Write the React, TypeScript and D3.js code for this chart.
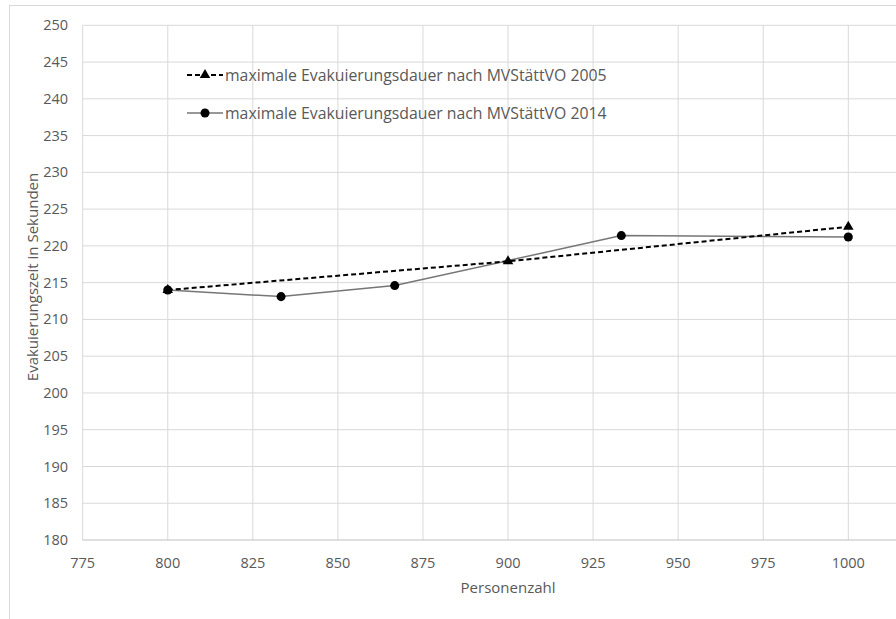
import React from "react";
import * as d3 from "d3";

const xTicks = [775, 800, 825, 850, 875, 900, 925, 950, 975, 1000, 1025];
const yTicks = [180, 185, 190, 195, 200, 205, 210, 215, 220, 225, 230, 235, 240, 245, 250];

const series2005X = [800, 900, 1000];
const series2005Y = [214.0, 217.9, 222.6];
const series2014X = [800, 833.3, 866.7, 933.3, 1000];
const series2014Y = [214.0, 213.1, 214.6, 221.4, 221.2];

const label2005 = "maximale Evakuierungsdauer nach MVStättVO 2005";
const label2014 = "maximale Evakuierungsdauer nach MVStättVO 2014";
const xTitle = "Personenzahl";
const yTitle = "Evakuierungszeit in Sekunden";

export default function App() {
  const W = 896, H = 619;
  const left = 82.7, top = 25.3, bottom = 540;
  const x = d3.scaleLinear().domain([775, 1000]).range([left, 848.3]);
  const y = d3.scaleLinear().domain([180, 250]).range([bottom, top]);
  const right = x(1025);
  const font = "'Open Sans', sans-serif";
  const d05 = series2005X.map((v, i) => [v, series2005Y[i]] as [number, number]);
  const d14 = series2014X.map((v, i) => [v, series2014Y[i]] as [number, number]);
  const line = d3.line<[number, number]>().x(d => x(d[0])).y(d => y(d[1]));
  const tri = d3.symbol().type(d3.symbolTriangle).size(48)();
  const circ = d3.symbol().type(d3.symbolCircle).size(64)();
  return (
    <svg width={W} height={H} style={{ position: "absolute", left: 0, top: 0 }}>
      <rect x={0} y={0} width={W} height={H} fill="#fff" />
      <rect x={9.5} y={5.5} width={1000} height={1000} fill="#fff" stroke="#d9d9d9" />
      {xTicks.map(t => (
        <line key={"gx" + t} x1={x(t)} x2={x(t)} y1={top} y2={bottom} stroke="#d9d9d9" strokeWidth={1} />
      ))}
      {yTicks.map(t => (
        <line key={"gy" + t} x1={left} x2={right} y1={y(t)} y2={y(t)} stroke={t === 180 ? "#bfbfbf" : "#d9d9d9"} strokeWidth={1} />
      ))}
      {yTicks.map(t => (
        <text key={"ty" + t} x={68} y={y(t)} dy="0.35em" textAnchor="end" fontFamily={font} fontSize={14.5} fill="#595959">{t}</text>
      ))}
      {xTicks.filter(t => x(t) < W - 10).map(t => (
        <text key={"tx" + t} x={x(t)} y={563} dy="0.35em" textAnchor="middle" fontFamily={font} fontSize={14.5} fill="#595959">{t}</text>
      ))}
      <text x={(left + right) / 2} y={588} dy="0.35em" textAnchor="middle" fontFamily={font} fontSize={15} fill="#595959">{xTitle}</text>
      <text transform={`translate(33,277) rotate(-90)`} dy="0.35em" textAnchor="middle" fontFamily={font} fontSize={15} fill="#595959">{yTitle}</text>
      <path d={line(d14) || ""} fill="none" stroke="#767676" strokeWidth={1.5} />
      <path d={line(d05) || ""} fill="none" stroke="#000" strokeWidth={2} strokeDasharray="5,3" />
      {d14.map((d, i) => (
        <path key={"c" + i} d={circ || ""} transform={`translate(${x(d[0])},${y(d[1])})`} fill="#000" />
      ))}
      {d05.map((d, i) => (
        <path key={"t" + i} d={tri || ""} transform={`translate(${x(d[0])},${y(d[1])})`} fill="#000" />
      ))}
      <g>
        <line x1={187} x2={223} y1={75} y2={75} stroke="#000" strokeWidth={2} strokeDasharray="5,3" />
        <path d={tri || ""} transform="translate(205,75)" fill="#000" />
        <text x={225} y={75} dy="0.35em" fontFamily={font} fontSize={15.8} fill="#595959">{label2005}</text>
        <line x1={187} x2={223} y1={113} y2={113} stroke="#767676" strokeWidth={1.5} />
        <path d={circ || ""} transform="translate(205,113)" fill="#000" />
        <text x={225} y={113} dy="0.35em" fontFamily={font} fontSize={15.8} fill="#595959">{label2014}</text>
      </g>
    </svg>
  );
}
